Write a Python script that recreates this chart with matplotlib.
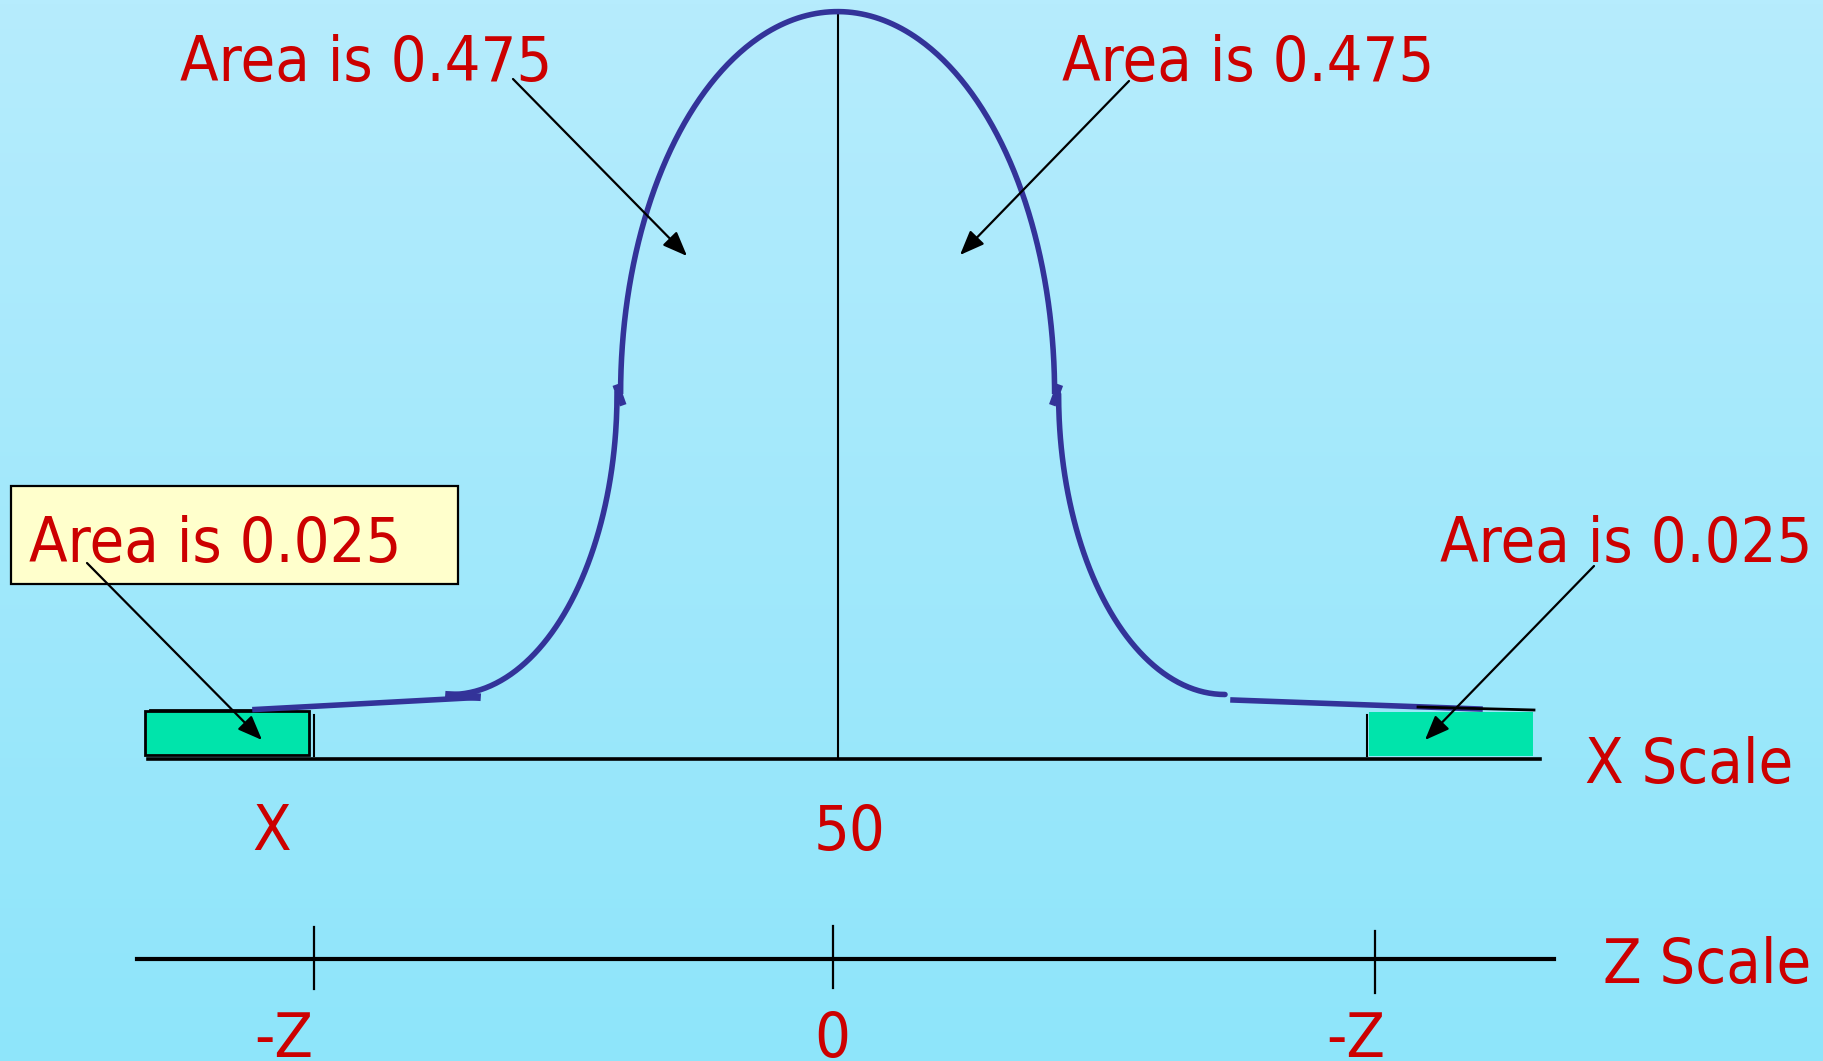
import numpy as np
import matplotlib
matplotlib.use("Agg")
import matplotlib.pyplot as plt
from matplotlib import font_manager as fm
from matplotlib.patches import Rectangle

# ---------------- data ----------------
area_labels = ["Area is 0.475", "Area is 0.475", "Area is 0.025", "Area is 0.025"]
area_label_x = [180, 1062, 29, 1440]
area_label_y = [81, 81, 562, 562]
arrow_tail_x = [513, 1129, 87, 1594]
arrow_tail_y = [79, 81, 563, 566]
arrow_head_x = [687, 960, 262, 1425]
arrow_head_y = [256, 255, 740, 740]

x_tick_labels = ["X", "50"]
x_tick_label_x = [252, 814]
z_tick_labels = ["-Z", "0", "-Z"]
z_tick_label_x = [254, 814, 1326]
z_tick_x = [314, 833, 1375]
scale_names = ["X Scale", "Z Scale"]
scale_name_x = [1585, 1603]
scale_name_y = [783, 983]

# bell outline (pixel frame): centre, shoulder and foot positions
bell_center_x = 837.6
bell_peak_y = 11.6
bell_shoulder_y = 394.0
bell_upper_halfwidth = 217.0
bell_lower_start = [617.0, 1058.6]
bell_foot_x = [451.0, 1225.0]
bell_foot_y = 694.5
tail_left_x = [477, 255]
tail_left_y = [697.5, 709.5]
tail_right_x = [1233, 1480]
tail_right_y = [700, 709]

# shaded tails
tail_rect_left = [145, 711, 164, 44]
tail_rect_right = [1369, 712, 164, 44]

W, H = 1824, 1061
fig = plt.figure(figsize=(W / 100, H / 100), dpi=100)
ax = fig.add_axes([0, 0, 1, 1])
ax.set_xlim(0, W)
ax.set_ylim(H, 0)
ax.axis("off")

# background gradient
top = np.array([182, 236, 253]) / 255
bot = np.array([142, 229, 250]) / 255
t = np.linspace(0, 1, 256)[:, None]
grad = (top[None, :] * (1 - t) + bot[None, :] * t)[:, None, :]
ax.imshow(grad, extent=[0, W, H, 0], aspect="auto", zorder=0)

# fonts
cond = [f for f in fm.fontManager.ttflist
        if f.name == "DejaVu Sans" and f.stretch in ("condensed", "semi-condensed")
        and f.style == "normal" and f.weight in ("normal", 400, "regular", "book")]
if cond:
    FP = fm.FontProperties(fname=cond[0].fname, size=45.2)
else:
    FP = fm.FontProperties(family="Liberation Sans", size=46)
RED = "#CC0000"
BLUE = "#333399"
GREEN = "#00E4AB"

# curve
lw_curve = 4.0
th = np.linspace(np.pi, 0, 300)
cy = bell_shoulder_y
ax.plot(bell_center_x + bell_upper_halfwidth * np.cos(th),
        cy - (cy - bell_peak_y) * np.sin(th), color=BLUE, lw=lw_curve, zorder=3,
        solid_capstyle="butt")
ph = np.linspace(0, np.pi / 2, 150)
b = bell_foot_y - cy
# left lower
a = bell_lower_start[0] - bell_foot_x[0]
ax.plot(bell_foot_x[0] + a * np.cos(ph), cy + b * np.sin(ph), color=BLUE, lw=lw_curve, zorder=3)
# right lower
a = bell_foot_x[1] - bell_lower_start[1]
ax.plot(bell_foot_x[1] - a * np.cos(ph), cy + b * np.sin(ph), color=BLUE, lw=lw_curve, zorder=3,
        solid_capstyle="round")
# small jogs at the shoulders
ax.plot([622, 617], [cy + 8, cy - 6], color=BLUE, lw=lw_curve + 1, zorder=3)
ax.plot([1053.5, 1058.6], [cy + 8, cy - 6], color=BLUE, lw=lw_curve + 1, zorder=3)
# left foot step
ax.plot([449, 477], [695, 697], color=BLUE, lw=lw_curve + 1.5, zorder=3)
# tails
ax.plot([150, 262], [710, 710], color="black", lw=2, zorder=2)
ax.plot(tail_left_x, tail_left_y, color=BLUE, lw=lw_curve, zorder=3)
ax.plot(tail_right_x, tail_right_y, color=BLUE, lw=lw_curve, zorder=3)
ax.plot([1418, 1534], [707, 710], color="black", lw=2, zorder=4)

# shaded rectangles
x0, y0, w, h = tail_rect_left
ax.add_patch(Rectangle((x0, y0), w, h, facecolor=GREEN, edgecolor="black", lw=2, zorder=2))
x0, y0, w, h = tail_rect_right
ax.add_patch(Rectangle((x0, y0), w, h, facecolor=GREEN, edgecolor="none", zorder=2))
ax.plot([314, 314], [715, 756], color="black", lw=1.5, zorder=3)
ax.plot([1367, 1367], [715, 756], color="black", lw=1.5, zorder=3)

# centre line and x axis
ax.plot([837.6, 837.6], [11.6, 758.5], color="black", lw=1.5, zorder=2)
ax.plot([148, 1540], [759, 759], color="black", lw=2.6, zorder=3)

# z axis
ax.plot([137, 1554], [959, 959], color="black", lw=3, zorder=3)
z_tick_top = [927, 926, 931]
z_tick_bot = [989, 988, 993]
for x, t0, t1 in zip(z_tick_x, z_tick_top, z_tick_bot):
    ax.plot([x, x], [t0, t1], color="black", lw=1.6, zorder=3)

# yellow box
ax.add_patch(Rectangle((11, 486), 447, 98, facecolor="#FFFFCC", edgecolor="black", lw=1.6, zorder=4))

# texts
for s, x, y in zip(area_labels, area_label_x, area_label_y):
    ax.text(x, y, s, color=RED, fontproperties=FP, ha="left", va="baseline", zorder=5)
for s, x in zip(x_tick_labels, x_tick_label_x):
    ax.text(x, 850, s, color=RED, fontproperties=FP, ha="left", va="baseline", zorder=5)
for s, x in zip(z_tick_labels, z_tick_label_x):
    ax.text(x, 1057, s, color=RED, fontproperties=FP, ha="left", va="baseline", zorder=5)
for s, x, y in zip(scale_names, scale_name_x, scale_name_y):
    ax.text(x, y, s, color=RED, fontproperties=FP, ha="left", va="baseline", zorder=5)

# arrows
for tx, ty, hx, hy in zip(arrow_tail_x, arrow_tail_y, arrow_head_x, arrow_head_y):
    ax.annotate("", xy=(hx, hy), xytext=(tx, ty),
                arrowprops=dict(arrowstyle="-|>,head_length=0.75,head_width=0.3", color="black",
                                lw=1.6, shrinkA=0, shrinkB=0, mutation_scale=20),
                zorder=6)

fig.savefig("out.png", dpi=100)
